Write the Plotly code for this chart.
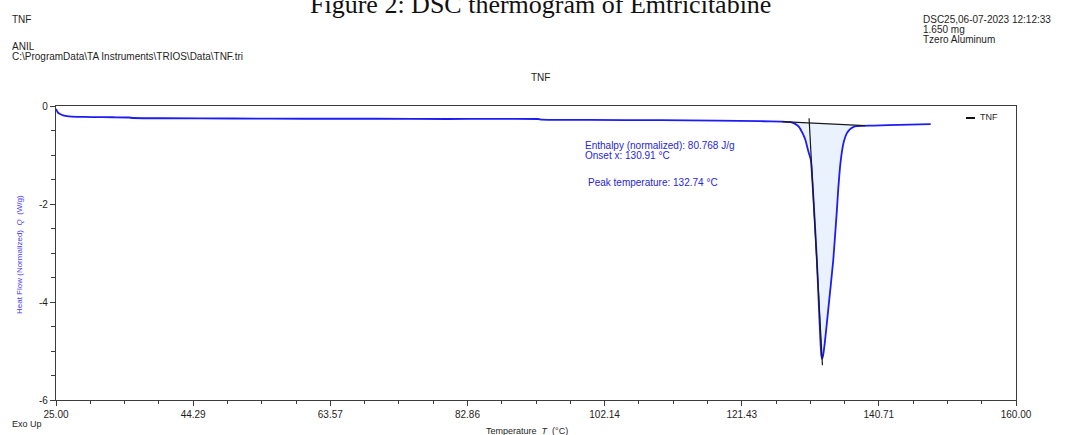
import numpy as np
import plotly.graph_objects as go

# DSC run: normalized heat flow vs temperature
temperature = [25.0, 25.2, 25.5, 26.0, 26.8, 28.0, 30.0, 33.0, 35.3, 35.8, 40.0, 50.0,
               60.0, 70.0, 80.0, 92.8, 93.3, 100.0, 110.0, 118.0, 124.0, 127.0, 128.3,
               129.0, 129.5, 130.0, 130.4, 130.75, 131.15, 131.6, 132.0, 132.3, 132.5,
               132.62, 132.74, 132.86, 133.1, 133.6, 134.3, 134.8, 135.0, 135.25, 135.5,
               135.8, 136.2, 136.6, 137.1, 137.6, 138.5, 140.0, 142.0, 145.0, 148.0]
heat_flow = [-0.06, -0.12, -0.16, -0.19, -0.21, -0.22, -0.225, -0.23, -0.235, -0.245,
             -0.25, -0.255, -0.26, -0.26, -0.265, -0.265, -0.28, -0.285, -0.29, -0.30,
             -0.31, -0.32, -0.33, -0.37, -0.43, -0.56, -0.70, -0.90, -1.10, -2.10, -3.15,
             -4.15, -4.80, -5.08, -5.16, -5.10, -4.85, -4.15, -3.15, -2.15, -1.70, -1.25,
             -0.95, -0.72, -0.56, -0.48, -0.43, -0.41, -0.405, -0.40, -0.39, -0.38, -0.37]

# integration baseline and onset tangent
baseline_T = [127.1, 138.8]
baseline_Q = [-0.32, -0.40]
tangent_T = [130.90, 132.78]
tangent_Q = [-0.25, -5.29]

x_tick_values = [25.00, 44.29, 63.57, 82.86, 102.14, 121.43, 140.71, 160.00]
x_tick_labels = ["25.00", "44.29", "63.57", "82.86", "102.14", "121.43", "140.71", "160.00"]
y_tick_values = [0, -2, -4, -6]
y_tick_labels = ["0", "-2", "-4", "-6"]

enthalpy = 80.768
onset = 130.91
peak_temp = 132.74

W, H = 1066, 435
ML, MR, MT, MB = 56, 50, 106, 35
PW, PH = W - ML - MR, H - MT - MB


def fx(px):
    return (px - ML) / PW


def fy(py):
    return (H - MB - py) / PH


T = np.array(temperature)
Q = np.array(heat_flow)
sel = (T >= baseline_T[0]) & (T <= baseline_T[1])
area_T = np.concatenate([[baseline_T[0]], T[sel], [baseline_T[1]]])
area_Q = np.concatenate([[np.interp(baseline_T[0], T, Q)], Q[sel],
                         [np.interp(baseline_T[1], T, Q)]])
poly_T = np.concatenate([area_T, baseline_T[::-1]])
poly_Q = np.concatenate([area_Q, baseline_Q[::-1]])

fig = go.Figure()
fig.add_trace(go.Scatter(x=poly_T, y=poly_Q, mode="lines", fill="toself",
                         fillcolor="#eaf3fd", line=dict(width=0), hoverinfo="skip"))
fig.add_trace(go.Scatter(x=temperature, y=heat_flow, mode="lines",
                         line=dict(color="#1c1cf4", width=1.8, shape="spline", smoothing=0.4),
                         name="TNF"))
fig.add_trace(go.Scatter(x=baseline_T, y=baseline_Q, mode="lines",
                         line=dict(color="#1a1a1a", width=1.2)))
fig.add_trace(go.Scatter(x=tangent_T, y=tangent_Q, mode="lines",
                         line=dict(color="#1a1a1a", width=1.2)))

sans = "Liberation Sans, Arial, sans-serif"
dark = "#1e1e1e"
blue_txt = "#2626d8"

ann = []


def txt(s, px, py, size=11, color=dark, xanchor="left", yanchor="middle", family=sans):
    ann.append(dict(text=s, x=fx(px), y=fy(py), xref="paper", yref="paper",
                    xanchor=xanchor, yanchor=yanchor, showarrow=False,
                    font=dict(family=family, size=size, color=color)))


txt("Figure 2: DSC thermogram of Emtricitabine", 540, 4, size=26, color="#111111",
    xanchor="center", family="Liberation Serif, Times New Roman, serif")
txt("TNF", 10, 20, size=10)
txt("ANIL", 10, 46, size=10)
txt("C:\\ProgramData\\TA Instruments\\TRIOS\\Data\\TNF.tri", 10, 57, size=10)
txt("DSC25,06-07-2023 12:12:33", 921, 20, size=10)
txt("1.650 mg", 921, 30, size=10)
txt("Tzero Aluminum", 921, 40, size=10)
txt("TNF", 540, 78, size=10, xanchor="center")
txt(f"Enthalpy (normalized): {enthalpy} J/g", 583, 145, size=10, color=blue_txt)
txt(f"Onset x: {onset:.2f} °C", 583, 155, size=10, color=blue_txt)
txt(f"Peak temperature: {peak_temp:.2f} °C", 586, 182, size=10, color=blue_txt)
txt("TNF", 978, 117, size=9)
txt("Exo Up", 10, 424, size=9)
txt("Temperature  <i>T</i>  (°C)", 527, 431, size=9, xanchor="center")
ann.append(dict(text="Heat Flow (Normalized)  <i>Q</i>  (W/g)", x=fx(19), y=fy(255),
                xref="paper", yref="paper", textangle=-90, showarrow=False,
                xanchor="center", yanchor="middle",
                font=dict(family=sans, size=8, color="#4040ff")))

axis_common = dict(showline=True, linecolor="#3c3c3c", linewidth=1.2, mirror=True,
                   ticks="outside", tickcolor="#3c3c3c", tickwidth=1, showgrid=False,
                   zeroline=False, tickfont=dict(family=sans, size=10, color=dark))

fig.update_layout(
    width=W, height=H, autosize=False,
    margin=dict(l=ML, r=MR, t=MT, b=MB, pad=0),
    paper_bgcolor="white", plot_bgcolor="white",
    showlegend=False,
    annotations=ann,
    shapes=[dict(type="line", xref="paper", yref="paper", x0=fx(966), x1=fx(975),
                 y0=fy(118), y1=fy(118), line=dict(color="#111111", width=2))],
    xaxis=dict(range=[25, 160], tickmode="array", tickvals=x_tick_values,
               ticktext=x_tick_labels, ticklen=5,
               minor=dict(tickmode="linear", tick0=25, dtick=135 / 28, ticklen=3,
                          ticks="outside", tickcolor="#3c3c3c"),
               **axis_common),
    yaxis=dict(range=[-6, 0], tickmode="array", tickvals=y_tick_values,
               ticktext=y_tick_labels, ticklen=5,
               minor=dict(tickmode="linear", tick0=0, dtick=0.5, ticklen=4,
                          ticks="outside", tickcolor="#3c3c3c"),
               **axis_common),
)

fig.write_html("out.html")
